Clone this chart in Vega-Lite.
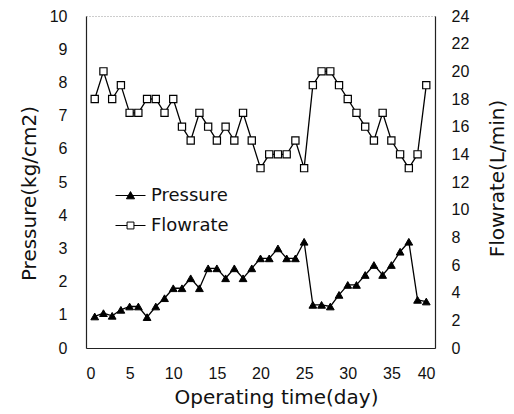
{
  "$schema": "https://vega.github.io/schema/vega-lite/v6.json",
  "autosize": {"type": "none"},
  "width": 349,
  "height": 332,
  "padding": {"left": 86, "top": 16, "right": 79, "bottom": 66},
  "background": "white",
  "config": {
    "view": {"stroke": "#9a9a9a", "strokeDash": [1, 2], "strokeWidth": 1},
    "axis": {
      "grid": false,
      "ticks": false,
      "domainColor": "#222",
      "domainWidth": 1.2,
      "labelFont": "Liberation Sans",
      "labelFontSize": 16,
      "labelColor": "#111",
      "titleFont": "DejaVu Sans",
      "titleFontSize": 20,
      "titleFontWeight": "normal",
      "titleColor": "#111"
    }
  },
  "data": {
    "values": [
      {"day": 1, "pressure": 0.95, "flowrate": 18},
      {"day": 2, "pressure": 1.05, "flowrate": 20},
      {"day": 3, "pressure": 0.97, "flowrate": 18},
      {"day": 4, "pressure": 1.15, "flowrate": 19},
      {"day": 5, "pressure": 1.25, "flowrate": 17},
      {"day": 6, "pressure": 1.25, "flowrate": 17},
      {"day": 7, "pressure": 0.93, "flowrate": 18},
      {"day": 8, "pressure": 1.25, "flowrate": 18},
      {"day": 9, "pressure": 1.5, "flowrate": 17},
      {"day": 10, "pressure": 1.8, "flowrate": 18},
      {"day": 11, "pressure": 1.8, "flowrate": 16},
      {"day": 12, "pressure": 2.1, "flowrate": 15},
      {"day": 13, "pressure": 1.8, "flowrate": 17},
      {"day": 14, "pressure": 2.4, "flowrate": 16},
      {"day": 15, "pressure": 2.4, "flowrate": 15},
      {"day": 16, "pressure": 2.1, "flowrate": 16},
      {"day": 17, "pressure": 2.4, "flowrate": 15},
      {"day": 18, "pressure": 2.1, "flowrate": 17},
      {"day": 19, "pressure": 2.4, "flowrate": 15},
      {"day": 20, "pressure": 2.7, "flowrate": 13},
      {"day": 21, "pressure": 2.7, "flowrate": 14},
      {"day": 22, "pressure": 3.0, "flowrate": 14},
      {"day": 23, "pressure": 2.7, "flowrate": 14},
      {"day": 24, "pressure": 2.7, "flowrate": 15},
      {"day": 25, "pressure": 3.2, "flowrate": 13},
      {"day": 26, "pressure": 1.3, "flowrate": 19},
      {"day": 27, "pressure": 1.3, "flowrate": 20},
      {"day": 28, "pressure": 1.25, "flowrate": 20},
      {"day": 29, "pressure": 1.6, "flowrate": 19},
      {"day": 30, "pressure": 1.9, "flowrate": 18},
      {"day": 31, "pressure": 1.9, "flowrate": 17},
      {"day": 32, "pressure": 2.2, "flowrate": 16},
      {"day": 33, "pressure": 2.5, "flowrate": 15},
      {"day": 34, "pressure": 2.2, "flowrate": 17},
      {"day": 35, "pressure": 2.5, "flowrate": 15},
      {"day": 36, "pressure": 2.9, "flowrate": 14},
      {"day": 37, "pressure": 3.2, "flowrate": 13},
      {"day": 38, "pressure": 1.45, "flowrate": 14},
      {"day": 39, "pressure": 1.4, "flowrate": 19}
    ]
  },
  "encoding": {
    "x": {
      "field": "day",
      "type": "quantitative",
      "scale": {"domain": [0, 40], "nice": false},
      "axis": {
        "values": [0, 5, 10, 15, 20, 25, 30, 35, 40],
        "labelPadding": 17,
        "title": "Operating time(day)",
        "titleX": 190,
        "titleY": 49,
        "titleBaseline": "middle"
      }
    }
  },
  "layer": [
    {
      "encoding": {
        "y": {
          "field": "pressure",
          "type": "quantitative",
          "scale": {"domain": [0, 10], "nice": false},
          "axis": {
            "orient": "left",
            "values": [0, 1, 2, 3, 4, 5, 6, 7, 8, 9, 10],
            "labelPadding": 19,
            "title": "Pressure(kg/cm2)",
            "titleX": -57,
            "titleY": 177,
            "titleAngle": -90,
            "titleBaseline": "middle"
          }
        }
      },
      "layer": [
        {"mark": {"type": "line", "color": "black", "strokeWidth": 1.3}},
        {
          "mark": {"type": "point", "shape": "triangle-up", "filled": true, "fill": "black", "size": 60, "stroke": "black", "strokeWidth": 1, "opacity": 1}
        },
        {
          "mark": {"type": "point", "filled": true, "opacity": 0},
          "encoding": {
            "shape": {
              "datum": "Pressure",
              "scale": {"domain": ["Pressure", "Flowrate"], "range": ["M-1,0H1M-0.27,0.22L0,-0.26L0.27,0.22Z", "M-1,0H-0.23M0.23,0H1M-0.23,-0.23H0.23V0.23H-0.23Z"]},
              "legend": {
                "title": null,
                "orient": "none",
                "legendX": 29,
                "legendY": 164,
                "symbolSize": 900,
                "symbolOpacity": 1,
                "symbolStrokeWidth": 1,
                "labelFont": "DejaVu Sans",
                "labelFontSize": 18,
                "labelColor": "#111",
                "labelOffset": 5,
                "rowPadding": 5
              }
            },
            "fill": {
              "datum": "Pressure",
              "scale": {"domain": ["Pressure", "Flowrate"], "range": ["black", "white"]}
            },
            "stroke": {
              "datum": "Pressure",
              "scale": {"domain": ["Pressure", "Flowrate"], "range": ["black", "black"]}
            }
          }
        }
      ]
    },
    {
      "encoding": {
        "y": {
          "field": "flowrate",
          "type": "quantitative",
          "scale": {"domain": [0, 24], "nice": false},
          "axis": {
            "orient": "right",
            "values": [0, 2, 4, 6, 8, 10, 12, 14, 16, 18, 20, 22, 24],
            "labelPadding": 16,
            "title": "Flowrate(L/min)",
            "titleX": 62,
            "titleY": 162,
            "titleAngle": -90,
            "titleBaseline": "middle"
          }
        }
      },
      "layer": [
        {"mark": {"type": "line", "color": "black", "strokeWidth": 1.3}},
        {
          "mark": {"type": "point", "shape": "square", "filled": true, "fill": "white", "size": 52, "stroke": "black", "strokeWidth": 1.2, "opacity": 1}
        },
        {
          "mark": {"type": "point", "filled": true, "opacity": 0},
          "encoding": {
            "shape": {"datum": "Flowrate"},
            "fill": {"datum": "Flowrate"},
            "stroke": {"datum": "Flowrate"}
          }
        }
      ]
    }
  ],
  "resolve": {"scale": {"y": "independent"}}
}
